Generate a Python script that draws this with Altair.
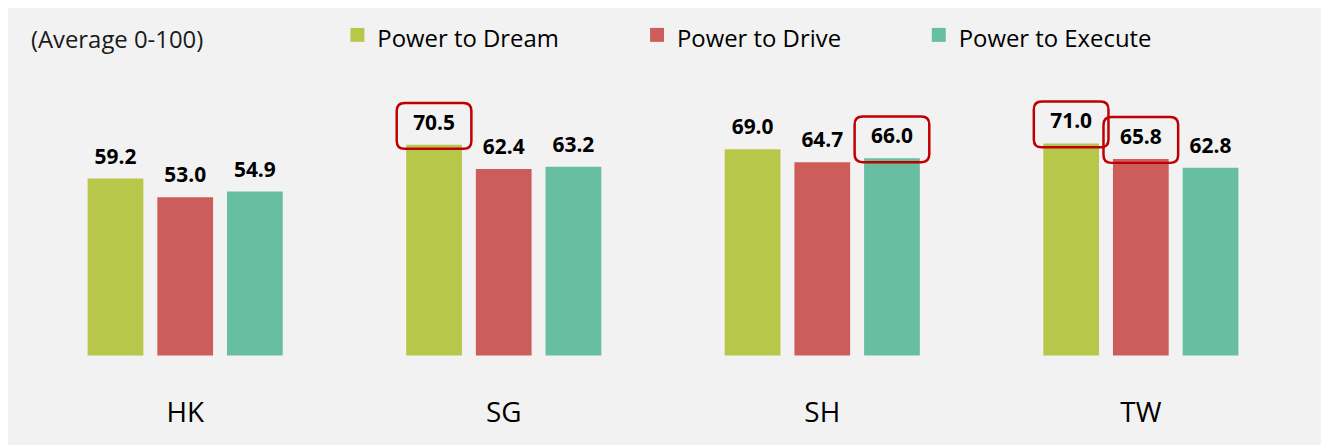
import altair as alt
import pandas as pd

cities = ["HK", "SG", "SH", "TW"]
series = ["Power to Dream", "Power to Drive", "Power to Execute"]
dream = [59.2, 70.5, 69.0, 71.0]
drive = [53.0, 62.4, 64.7, 65.8]
execute = [54.9, 63.2, 66.0, 62.8]
hl_dream = [False, True, False, True]
hl_drive = [False, False, False, True]
hl_execute = [False, False, True, False]
colors = ["#b7c74a", "#cd5d5b", "#68bea0"]

rows = []
for vals, hls, s in [(dream, hl_dream, series[0]), (drive, hl_drive, series[1]), (execute, hl_execute, series[2])]:
    for c, v, h in zip(cities, vals, hls):
        rows.append({"city": c, "series": s, "value": v, "hl": h})
df = pd.DataFrame(rows)

FONT = "Open Sans"

box_path = ("M -0.787,-0.613 L 0.787,-0.613 Q 1,-0.613 1,-0.4 L 1,0.4 Q 1,0.613 0.787,0.613 "
            "L -0.787,0.613 Q -1,0.613 -1,0.4 L -1,-0.4 Q -1,-0.613 -0.787,-0.613 Z")
leg_path = "M -1,-1.714 L 1,-1.714 L 1,0.286 L -1,0.286 Z"

base = alt.Chart(df).encode(
    x=alt.X("city:N", sort=cities, title=None,
            scale=alt.Scale(paddingInner=0.3875, paddingOuter=0.19375),
            axis=alt.Axis(labelAngle=0, ticks=False, domain=False, labelFontSize=28,
                          labelFont=FONT, labelColor="black", labelPadding=66,
                          labelBaseline="alphabetic", grid=False)),
    xOffset=alt.XOffset("series:N", sort=series,
                        scale=alt.Scale(paddingInner=0.2, paddingOuter=0)),
    y=alt.Y("value:Q", scale=alt.Scale(domain=[0, 100]), axis=None),
)

bars = base.mark_bar().encode(
    color=alt.Color("series:N", sort=series,
                    scale=alt.Scale(domain=series, range=colors),
                    legend=alt.Legend(title=None, orient="none", legendX=321, legendY=-29,
                                      direction="horizontal", symbolType=leg_path,
                                      symbolSize=196, symbolStrokeWidth=0,
                                      labelFontSize=24, labelFont=FONT, labelColor="black",
                                      labelOffset=8, columnPadding=86, labelLimit=400,
                                      padding=0))
)

labels = base.mark_text(dy=-15, baseline="alphabetic", fontSize=21, fontWeight="bold",
                        font=FONT, color="black").encode(
    text=alt.Text("value:Q", format=".1f"))

boxes = base.transform_filter("datum.hl").mark_point(
    shape=box_path, size=5625, filled=False, color="#c00000", stroke="#c00000",
    strokeWidth=2.5, opacity=1, yOffset=-19)

chart = alt.layer(bars, labels, boxes).properties(
    width=1280, height=300,
    padding={"left": 18, "top": 48, "right": 21, "bottom": 89},
    autosize=alt.AutoSizeParams(type="none"),
    title=alt.TitleParams("(Average 0-100)", anchor="start", frame="group", orient="top",
                          offset=9, dy=53, baseline="alphabetic", fontSize=24,
                          fontWeight="normal", font=FONT, color="#1a1a1a", dx=5),
).configure(background="#f2f2f2").configure_view(stroke=None)

chart.save("out.html", embed_options={"renderer": "svg", "actions": False})
